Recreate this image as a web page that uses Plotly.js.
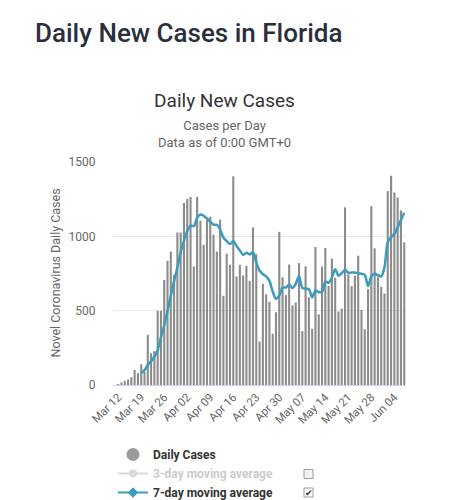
<!DOCTYPE html>
<html>
<head>
<meta charset="utf-8">
<script src="https://cdn.plot.ly/plotly-3.0.1.min.js"></script>
<style>
  html, body { margin: 0; padding: 0; background: #ffffff; }
  #chart { width: 449px; height: 500px; }
</style>
</head>
<body>
<div id="chart"></div>
<script>
// ---- data ----
const startDate = '2020-03-12';

// Daily new cases, Mar 12 .. Jun 07
const dailyCases = [
  5, 18, 28, 36, 52, 100, 80, 140, 90, 338,
  214, 228, 499, 499, 707, 835, 898, 741, 1026, 1026,
  1224, 1253, 1265, 797, 1265, 1105, 943, 1110, 1132, 1011,
  898, 1112, 600, 883, 809, 1404, 730, 809, 737, 802,
  701, 1060, 880, 292, 680, 610, 560, 345, 490, 1030,
  725, 605, 810, 535, 555, 820, 362, 798, 590, 378,
  928, 476, 797, 922, 666, 850, 721, 494, 514, 1195,
  745, 665, 735, 870, 505, 375, 645, 1203, 920, 725,
  660, 615, 1304, 1408, 1295, 1261, 1175, 960
];

// 7-day moving average as drawn, Mar 19 .. Jun 07
const avg7 = [
  80, 100, 135, 160, 190, 235, 320, 400, 500, 600,
  700, 790, 895, 970, 1035, 1072, 1068, 1125, 1147, 1138,
  1120, 1098, 1078, 1078, 1045, 992, 968, 948, 968, 935,
  905, 875, 890, 878, 895, 825, 770, 745, 730, 700,
  628, 580, 602, 655, 656, 675, 652, 680, 732, 654,
  648, 644, 590, 635, 625, 625, 695, 688, 722, 778,
  735, 752, 775, 755, 757, 757, 752, 748, 740, 665,
  730, 748, 738, 730, 792, 960, 995, 1015, 1060, 1110,
  1158
];
const avg7Offset = 7; // first average point is the 8th day

const seriesNames = ['Daily Cases', '3-day moving average', '7-day moving average'];
const yTickVals = [0, 500, 1000, 1500];
const yTitle = 'Novel Coronavirus Daily Cases';

// ---- build date categories ----
function dayList(start, n) {
  const out = [];
  const base = new Date(start + 'T00:00:00Z');
  for (let i = 0; i < n; i++) {
    const d = new Date(base.getTime() + i * 86400000);
    out.push(d.toISOString().slice(0, 10));
  }
  return out;
}
const dates = dayList(startDate, dailyCases.length);
const avgDates = dates.slice(avg7Offset, avg7Offset + avg7.length);

// pixel helpers for paper coordinates (plot area 113..406 x, 162..385 y)
const W = 449, H = 500;
const PL = 113, PR = 406, PT = 162, PB = 385;
const px = v => (v - PL) / (PR - PL);
const py = v => (PB - v) / (PB - PT);

const teal = '#3a9cbd';
const barGrey = '#8c8c8c';

const traces = [
  {
    type: 'bar', x: dates, y: dailyCases, name: seriesNames[0],
    marker: { color: barGrey }, showlegend: false, hoverinfo: 'x+y'
  },
  {
    type: 'scatter', mode: 'markers', x: [null], y: [null],
    name: '<b>' + seriesNames[0] + '</b>', legendgroup: 'daily',
    marker: { symbol: 'circle', size: 13, color: '#9a9a9a' }
  },
  {
    type: 'scatter', mode: 'lines+markers', x: [null], y: [null],
    name: '<b><span style="color:#9a9a9a">' + seriesNames[1] + '</span></b>',
    visible: 'legendonly',
    line: { color: '#b5b5b5', width: 2 },
    marker: { symbol: 'circle', size: 8, color: '#b5b5b5' }
  },
  {
    type: 'scatter', mode: 'lines', x: avgDates, y: avg7, name: seriesNames[2],
    line: { color: teal, width: 2.5, shape: 'spline', smoothing: 0.8 },
    showlegend: false, legendgroup: 'avg7'
  },
  {
    type: 'scatter', mode: 'lines+markers', x: [null], y: [null],
    name: '<b>' + seriesNames[2] + '</b>', legendgroup: 'avg7',
    line: { color: teal, width: 2 },
    marker: { symbol: 'diamond', size: 8, color: teal }
  }
];

const layout = {
  width: W, height: H,
  margin: { l: PL, r: W - PR, t: PT, b: H - PB, autoexpand: false },
  paper_bgcolor: '#ffffff', plot_bgcolor: '#ffffff',
  font: { family: 'Roboto, "Open Sans", sans-serif', color: '#666666' },
  title: {
    text: 'Daily New Cases',
    font: { size: 19, color: '#333333' },
    xref: 'container', x: 0.5, xanchor: 'center',
    yref: 'container', y: 0.799, yanchor: 'middle'
  },
  bargap: 0.36,
  showlegend: true,
  legend: {
    xref: 'container', x: 113 / W, xanchor: 'left',
    yref: 'container', y: 1 - 440 / H, yanchor: 'top',
    orientation: 'v', traceorder: 'normal',
    font: { size: 12, color: '#333333' },
    bgcolor: 'rgba(0,0,0,0)', itemclick: false, itemdoubleclick: false
  },
  xaxis: {
    type: 'date', automargin: false,
    range: ['2020-03-10 10:00', '2020-06-07 13:00'],
    tick0: startDate, dtick: 7 * 86400000,
    tickformat: '%b %d', tickangle: -45,
    tickfont: { size: 11.5, color: '#666666' },
    showgrid: false, zeroline: false,
    showline: true, linecolor: '#ccd6eb', linewidth: 1,
    ticks: '', fixedrange: true
  },
  yaxis: {
    automargin: false,
    range: [0, 1500], tickvals: yTickVals,
    tickfont: { size: 12, color: '#666666' },
    showgrid: true, gridcolor: '#e6e6e6', gridwidth: 1,
    zeroline: false, showline: false,
    ticks: 'outside', ticklen: 14, tickcolor: 'rgba(0,0,0,0)',
    fixedrange: true
  },
  annotations: [
    {
      text: 'Daily New Cases in Florida', showarrow: false,
      xref: 'paper', x: px(33), xanchor: 'left',
      yref: 'paper', y: py(33), yanchor: 'middle',
      font: { size: 26, color: '#2b2f3c', weight: 500 }
    },
    {
      text: 'Cases per Day<br>Data as of 0:00 GMT+0', showarrow: false,
      xref: 'paper', x: px(224.5), xanchor: 'center',
      yref: 'paper', y: py(134), yanchor: 'middle',
      font: { size: 13, color: '#666666' }
    },
    {
      text: yTitle, showarrow: false, textangle: -90,
      xref: 'paper', x: px(55), xanchor: 'center',
      yref: 'paper', y: 0.5, yanchor: 'middle',
      font: { size: 12.5, color: '#666666' }
    },
    {
      text: '✔', showarrow: false,
      xref: 'paper', x: px(308.5), xanchor: 'center',
      yref: 'paper', y: py(492.5), yanchor: 'middle',
      font: { size: 9, color: '#333333' }
    }
  ],
  shapes: [
    {
      type: 'rect', xref: 'paper', yref: 'paper',
      x0: px(304), x1: px(313), y0: py(478.5), y1: py(469.5),
      line: { color: '#9a9a9a', width: 1 }, fillcolor: '#f2f2f2'
    },
    {
      type: 'rect', xref: 'paper', yref: 'paper',
      x0: px(304), x1: px(313), y0: py(497), y1: py(488),
      line: { color: '#9a9a9a', width: 1 }, fillcolor: '#ffffff'
    }
  ]
};

Plotly.newPlot('chart', traces, layout, { displayModeBar: false });
</script>
</body>
</html>
